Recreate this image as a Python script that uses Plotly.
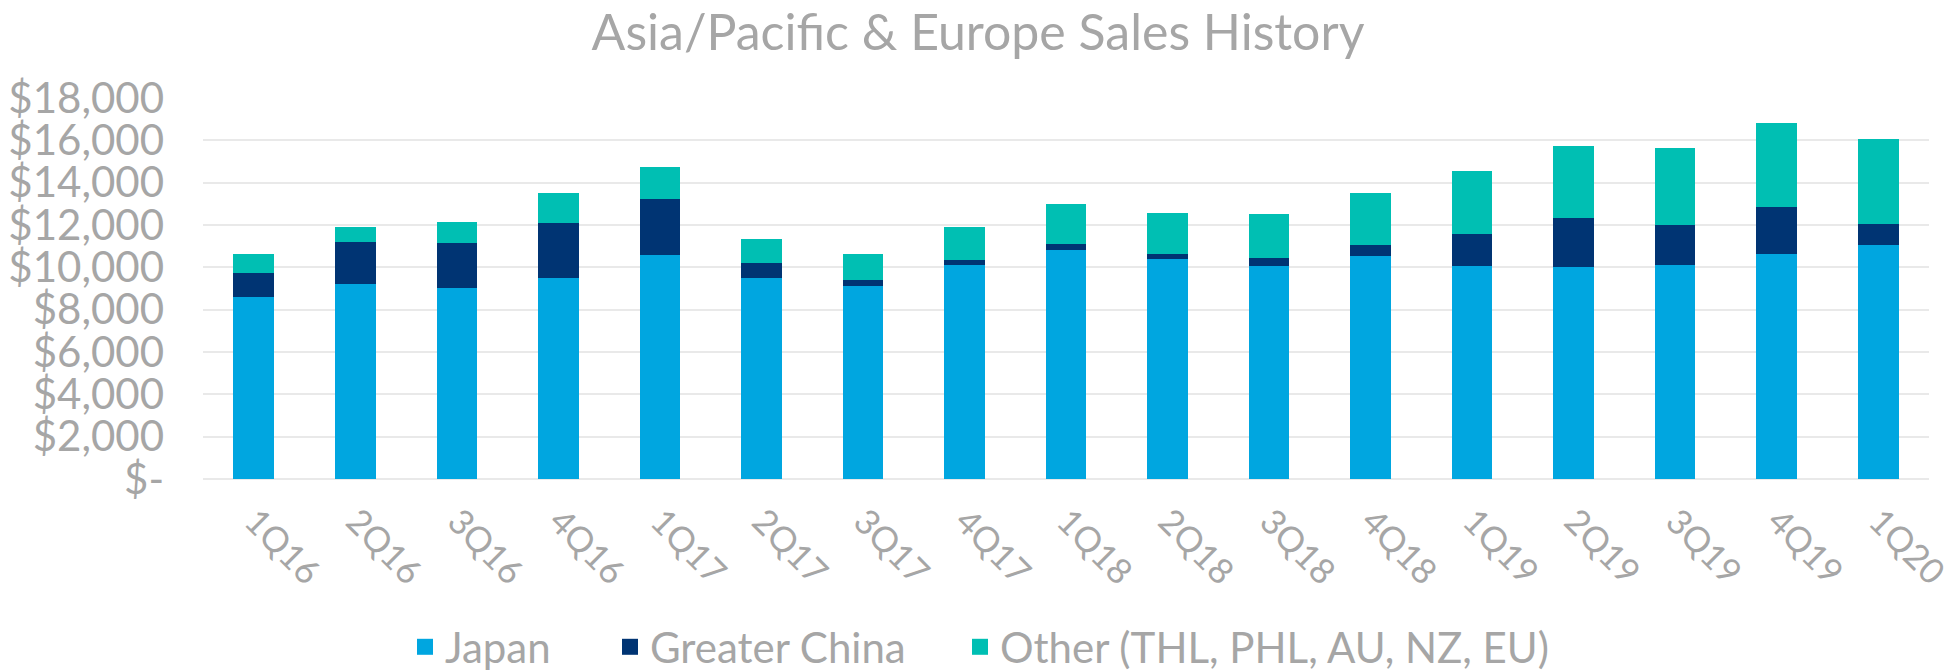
import plotly.graph_objects as go

quarters = ["1Q16", "2Q16", "3Q16", "4Q16", "1Q17", "2Q17", "3Q17", "4Q17", "1Q18",
            "2Q18", "3Q18", "4Q18", "1Q19", "2Q19", "3Q19", "4Q19", "1Q20"]
japan = [8580, 9210, 9010, 9480, 10580, 9480, 9135, 10130, 10840,
         10380, 10065, 10550, 10080, 10030, 10110, 10615, 11070]
greater_china = [1165, 2000, 2150, 2630, 2630, 710, 285, 235, 270,
                 235, 360, 490, 1510, 2285, 1875, 2220, 960]
other = [865, 710, 980, 1420, 1550, 1150, 1210, 1560, 1860,
         1970, 2110, 2490, 2960, 3415, 3670, 4000, 4015]

series_names = ["Japan", "Greater China", "Other (THL, PHL, AU, NZ, EU)"]
series_colors = ["#00A6E0", "#003473", "#00BFB3"]

y_tickvals = [0, 2000, 4000, 6000, 8000, 10000, 12000, 14000, 16000, 18000]
y_ticktext = ["$-", "$2,000", "$4,000", "$6,000", "$8,000", "$10,000",
              "$12,000", "$14,000", "$16,000", "$18,000"]

FONT = "Lato"
GRAY = "#A6A6A6"
W, H = 1956, 672

fig = go.Figure()
legend_ids = ["legend", "legend2", "legend3"]
for vals, name, color in zip([japan, greater_china, other], series_names, series_colors):
    fig.add_trace(go.Bar(name=name, x=quarters, y=vals, marker_color=color,
                         marker_line_width=0, showlegend=False))
# legend-only entries (bigger square symbols)
for name, color, lid in zip(series_names, series_colors, legend_ids):
    fig.add_trace(go.Scatter(name=name, x=[None], y=[None], mode="markers",
                             marker=dict(symbol="square", size=16, color=color),
                             legend=lid, showlegend=True, hoverinfo="skip"))

legend_text_x = [445, 650, 1000]
legend_common = dict(orientation="h", xref="container", yref="container", xanchor="left",
                     y=25 / H, yanchor="middle", bgcolor="rgba(0,0,0,0)",
                     font=dict(family=FONT, size=42, color=GRAY), itemwidth=30)

fig.update_layout(
    barmode="stack",
    bargap=0.6,
    width=W,
    height=H,
    paper_bgcolor="white",
    plot_bgcolor="white",
    font=dict(family=FONT, color=GRAY),
    title=dict(text="Asia/Pacific & Europe Sales History", x=0.5, xanchor="center",
               xref="container", y=1 - 32 / H, yanchor="middle", yref="container",
               font=dict(family=FONT, size=50, color=GRAY)),
    margin=dict(l=203, r=27, t=98, b=193, autoexpand=False),
    legend=dict(x=(legend_text_x[0] - 40) / W, **legend_common),
    legend2=dict(x=(legend_text_x[1] - 40) / W, **legend_common),
    legend3=dict(x=(legend_text_x[2] - 40) / W, **legend_common),
    showlegend=True,
)

fig.update_yaxes(range=[0, 18000], tickvals=y_tickvals, ticktext=y_ticktext,
                 showgrid=True, gridcolor="#E9E9E9", gridwidth=2,
                 zeroline=True, zerolinecolor="#E9E9E9", zerolinewidth=2,
                 showline=False, tickfont=dict(family=FONT, size=42, color=GRAY),
                 ticklabelstandoff=38, automargin=False)
fig.update_xaxes(tickangle=45, tickfont=dict(family=FONT, size=35, color=GRAY),
                 showline=False, showgrid=False, ticklabelstandoff=14, ticklabelshift=1,
                 automargin=False)

fig.write_html("out.html", config={"displayModeBar": False},
               post_script="document.body.style.margin='0';")
